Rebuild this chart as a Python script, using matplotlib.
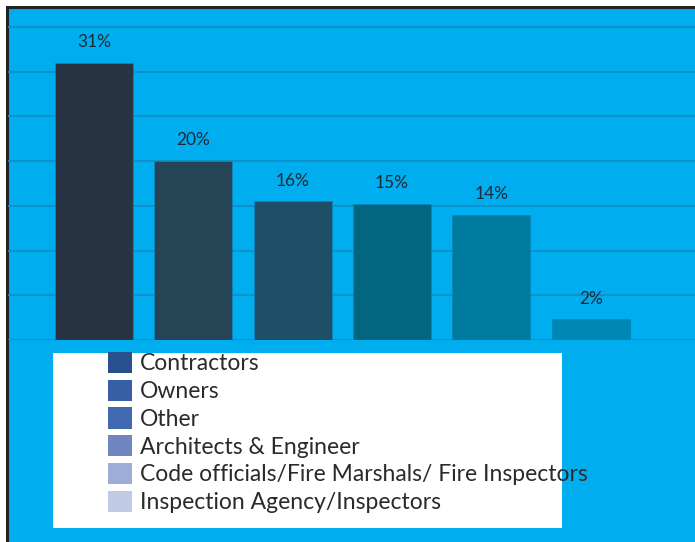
import matplotlib
matplotlib.use("Agg")
import matplotlib.pyplot as plt
import matplotlib.patches as patches

# ── data ──────────────────────────────────────────────────────────────────────
groups = ["Contractors", "Owners", "Other", "Architects & Engineer",
          "Code officials/Fire Marshals/ Fire Inspectors",
          "Inspection Agency/Inspectors"]
heights = [31.0, 20.0, 15.5, 15.2, 14.0, 2.3]
labels = ["31%", "20%", "16%", "15%", "14%", "2%"]

bar_colors = ["#283444", "#254557", "#1d4f66", "#036680", "#007ba0", "#0088b4"]
legend_colors = ["#27508f", "#365fa6", "#4069b0", "#6f86c0", "#9dadd7", "#c0cae4"]

BLUE = "#00adef"
GRID = "#0f8fc4"
W, H = 695, 542

fig = plt.figure(figsize=(W / 100, H / 100), dpi=100)
fig.patch.set_facecolor("white")

# blue panel with dark top/left border
bg = patches.Rectangle((6.5 / W, -0.1), 1.2, (H - 6.5) / H + 0.1,
                       transform=fig.transFigure, facecolor=BLUE,
                       edgecolor="#222222", linewidth=2.2, zorder=0)
fig.add_artist(bg)

ax = fig.add_axes([8 / W, (H - 340) / H, (W - 8) / W, 332 / H])
ax.set_facecolor(BLUE)
ax.patch.set_alpha(0)

x = range(len(heights))
ax.bar(x, heights, width=0.785, color=bar_colors, edgecolor="#0a86b8",
       linewidth=0.6, zorder=3)
for xi, h, lb in zip(x, heights, labels):
    ax.text(xi, h + 2.3, lb, ha="center", va="center", fontsize=12.5,
            family="Lato", color="#1e2a38", zorder=4)

ax.set_xlim(-0.865, 6.05)
ax.set_ylim(0, 37.1)
ax.set_yticks(range(0, 36, 5))
ax.yaxis.grid(True, color=GRID, linewidth=1.3, zorder=1)
ax.tick_params(left=False, bottom=False, labelleft=False, labelbottom=False)
for s in ax.spines.values():
    s.set_visible(False)

# white legend box
box = patches.Rectangle((53 / W, (H - 528) / H), 509 / W, 175 / H,
                        transform=fig.transFigure, facecolor="white",
                        edgecolor="none", zorder=1)
fig.add_artist(box)

handles = [patches.Patch(facecolor=c, edgecolor="none") for c in legend_colors]
leg = fig.legend(handles, groups, loc="upper left",
                 bbox_to_anchor=(108 / W, (H - 352) / H), frameon=False,
                 prop={"family": "Lato", "size": 16.5},
                 handlelength=1.05, handleheight=1.05, handletextpad=0.35,
                 labelspacing=0.23, borderpad=0, borderaxespad=0)
for t in leg.get_texts():
    t.set_color("#2a2a2a")
leg.set_zorder(5)

fig.savefig("out.png", dpi=100)
